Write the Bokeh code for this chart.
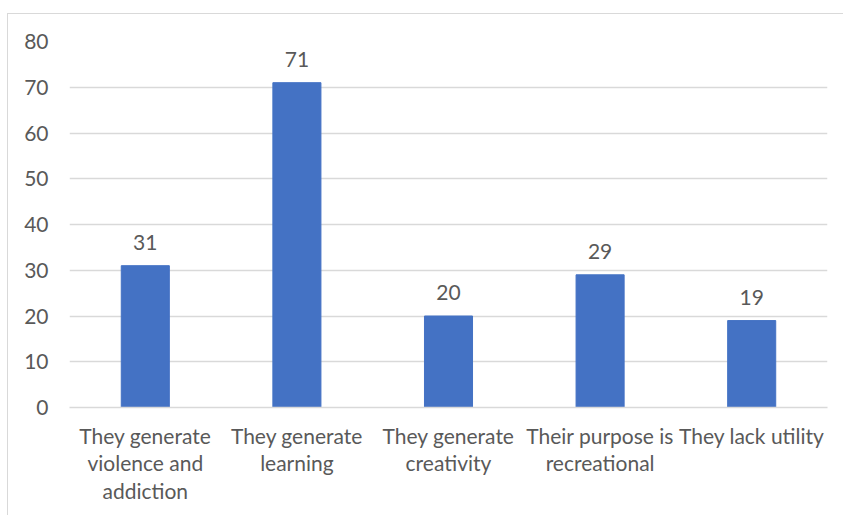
from bokeh.plotting import figure
from bokeh.embed import file_html
from bokeh.resources import INLINE
from bokeh.models import ColumnDataSource, FixedTicker
from bokeh.core.properties import value

categories = ["They generate\nviolence and\naddiction", "They generate\nlearning",
              "They generate\ncreativity", "Their purpose is\nrecreational", "They lack utility"]
counts = [31, 71, 20, 29, 19]
y_ticks = [0, 10, 20, 30, 40, 50, 60, 70, 80]

FONT = "Lato"
TXT = "#595959"
GRID = "#d9d9d9"
BAR = "#4472C4"
FS = "21px"

src = ColumnDataSource(dict(cat=categories, val=counts, lab=[str(v) for v in counts]))

p = figure(x_range=categories, y_range=(0, 80), width=836, height=502,
           output_backend="svg", toolbar_location=None,
           min_border_left=61, min_border_right=17, min_border_top=27, min_border_bottom=109,
           styles={"margin-top": "13px", "margin-left": "7px",
                   "border-top": f"1px solid {GRID}", "border-left": f"1px solid {GRID}",
                   "box-sizing": "border-box"})
p.outline_line_color = None
p.background_fill_color = "white"
p.border_fill_color = "white"

p.vbar(x="cat", top="val", width=0.317, source=src, color=BAR)
p.text(x="cat", y="val", text="lab", source=src, y_offset=-16, text_align="center",
       text_baseline="bottom", text_font=value(FONT), text_font_size=FS, text_color=TXT)

p.yaxis.ticker = FixedTicker(ticks=y_ticks)
p.yaxis.axis_line_color = None
p.yaxis.major_tick_line_color = None
p.yaxis.minor_tick_line_color = None
p.yaxis.major_tick_out = 0
p.yaxis.major_label_text_font = FONT
p.yaxis.major_label_text_font_size = FS
p.yaxis.major_label_text_color = TXT
p.yaxis.major_label_standoff = 21

p.xaxis.axis_line_color = GRID
p.xaxis.axis_line_width = 1.5
p.xaxis.major_tick_line_color = None
p.xaxis.minor_tick_line_color = None
p.xaxis.major_tick_out = 0
p.xaxis.major_label_text_font = FONT
p.xaxis.major_label_text_font_size = FS
p.xaxis.major_label_text_color = TXT
p.xaxis.major_label_standoff = 15
p.xaxis.major_label_text_line_height = 1.1

p.xgrid.grid_line_color = None
p.ygrid.grid_line_color = GRID
p.ygrid.grid_line_width = 1.5

open("out.html", "w").write(file_html(p, INLINE))
